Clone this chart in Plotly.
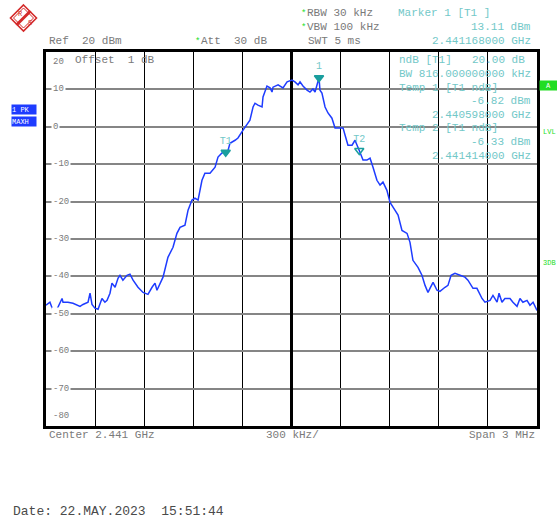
import plotly.graph_objects as go

# Spectrum analyser sweep, max-hold trace
CENTER_GHZ = 2.441
SPAN_KHZ = 3000
REF_LEVEL_DBM = 20

offset_khz = [
    -1500, -1476, -1457, -1433, -1402, -1396, -1366, -1335, -1292, -1274,
    -1243, -1231, -1219, -1201, -1182, -1158, -1140, -1127, -1109, -1097,
    -1078, -1060, -1048, -1030, -1005, -987, -968, -938, -907, -877,
    -852, -834, -822, -803, -785, -755, -724, -700, -681, -651,
    -632, -608, -590, -571, -547, -529, -498, -467, -449, -425,
    -402, -394, -376, -345, -327, -296, -272, -254, -235, -223,
    -205, -180, -174, -162, -150, -131, -119, -113, -82, -52,
    -27, 3, 21, 40, 52, 70, 95, 113, 131, 144,
    156, 168, 174, 186, 205, 223, 247, 266, 296, 315,
    327, 345, 370, 388, 414, 437, 461, 480, 498, 522,
    541, 559, 583, 602, 632, 651, 675, 706, 724, 742,
    773, 797, 816, 834, 846, 865, 889, 907, 938, 956,
    975, 999, 1030, 1060, 1078, 1109, 1133, 1164, 1182, 1213,
    1231, 1256, 1268, 1286, 1304, 1335, 1353, 1378, 1396, 1414,
    1439, 1457, 1476, 1500,
]
level_dbm = [
    -47.7, -46.9, -49.1, -48.8, -45.9, -46.9, -46.9, -47.2, -48.0, -47.5,
    -46.9, -44.5, -47.5, -48.5, -48.8, -45.9, -46.9, -46.4, -44.5, -41.8,
    -42.9, -40.5, -39.7, -41.0, -39.7, -39.4, -41.0, -42.9, -44.3, -44.8,
    -42.9, -41.8, -43.7, -41.8, -40.2, -34.9, -32.2, -28.5, -26.9, -26.3,
    -22.3, -19.6, -19.1, -19.6, -14.3, -12.4, -12.4, -10.8, -8.1, -7.0,
    -6.82, -7.3, -4.4, -3.6, -3.0, -0.9, 0.5, 1.8, 5.3, 6.3,
    5.8, 5.3, 8.0, 9.8, 10.9, 10.4, 9.3, 10.6, 11.2, 10.4,
    12.0, 12.5, 12.0, 11.2, 12.0, 10.9, 9.8, 9.3, 10.1, 9.3,
    11.2, 13.11, 9.8, 9.0, 5.3, 3.7, 2.3, -0.3, -0.3, -0.3,
    -2.2, -4.9, -4.9, -3.6, -6.33, -8.9, -8.9, -8.4, -10.8, -14.3,
    -15.6, -14.8, -17.0, -20.2, -22.3, -23.6, -27.7, -28.5, -30.9, -35.7,
    -37.6, -39.7, -42.4, -44.3, -43.2, -41.6, -43.7, -44.0, -42.9, -42.4,
    -39.7, -39.2, -39.7, -40.2, -41.0, -43.2, -43.2, -45.9, -46.9, -46.4,
    -45.1, -46.9, -44.5, -46.9, -45.9, -45.9, -46.9, -48.0, -45.9, -46.9,
    -46.4, -47.7, -46.9, -49.1,
]

# Markers: T1 / T2 are the ndB temp markers, 1 is the peak marker
marker_names = ["T1", "1", "T2"]
marker_freq_ghz = [2.440598, 2.441168, 2.441414]
marker_level_dbm = [-6.82, 13.11, -6.33]
marker_symbols = ["triangle-down", "triangle-down", "triangle-down-open"]

ytick_values = [20, 10, 0, -10, -20, -30, -40, -50, -60, -70, -80]

MONO = "Liberation Mono"
GRAY = "#7a7a7a"
CYAN = "#72c8c8"
TEAL = "#1a9e9e"
GREEN = "#22dd22"
TRACE_BLUE = "#1e3cff"

# plot frame in page pixels
L, R, T, B = 46, 537, 52, 426
W, H = 557, 521


def px_x(x):
    return (x - L) / (R - L)


def px_y(y):
    return (B - y) / (B - T)


fig = go.Figure()

fig.add_trace(go.Scatter(
    x=offset_khz, y=level_dbm, mode="lines",
    line=dict(color=TRACE_BLUE, width=1.5),
    hoverinfo="skip", showlegend=False,
))

marker_offsets = [(f - CENTER_GHZ) * 1e6 for f in marker_freq_ghz]
fig.add_trace(go.Scatter(
    x=marker_offsets, y=marker_level_dbm, mode="markers+text",
    text=marker_names, textposition="top center",
    textfont=dict(family=MONO, size=10, color=CYAN),
    marker=dict(symbol=marker_symbols, size=8, color=TEAL,
                line=dict(color=TEAL, width=1.5)),
    hoverinfo="skip", showlegend=False,
))

fig.update_xaxes(
    range=[-SPAN_KHZ / 2, SPAN_KHZ / 2], dtick=SPAN_KHZ / 10, tick0=-SPAN_KHZ / 2,
    showgrid=True, gridcolor="black", gridwidth=1.3,
    zeroline=True, zerolinecolor="black", zerolinewidth=3,
    showticklabels=False, ticks="",
    showline=True, linecolor="black", linewidth=2.5, mirror=True,
)
fig.update_yaxes(
    range=[-80, REF_LEVEL_DBM], dtick=10, tick0=-80,
    showgrid=True, gridcolor="#858585", gridwidth=2,
    zeroline=False, showticklabels=False, ticks="",
    showline=True, linecolor="black", linewidth=2.5, mirror=True,
)

# level labels drawn inside the frame
for v in ytick_values:
    if v == ytick_values[0]:
        ya, ys = "top", -3
    elif v == ytick_values[-1]:
        ya, ys = "bottom", 3
    else:
        ya, ys = "middle", 0
    fig.add_annotation(
        text=str(v), x=px_x(51), xref="paper", xanchor="left",
        y=v, yref="y", yanchor=ya, yshift=ys, showarrow=False,
        bgcolor="white", borderpad=1,
        font=dict(family=MONO, size=9, color=GRAY),
    )


def label(text, x, y, color=GRAY, size=11, anchor="left", **kw):
    fig.add_annotation(
        text=text, x=px_x(x), y=px_y(y), xref="paper", yref="paper",
        xanchor=anchor, yanchor="middle", showarrow=False,
        font=dict(family=MONO, size=size, color=color), **kw,
    )


NB = "\u00a0"

# header
label("Ref" + NB * 2 + "20" + NB + "dBm", 47, 41)
label("*", 193, 42, color=GREEN, size=9)
label("Att" + NB * 2 + "30" + NB + "dB", 199, 41)
label("*", 299, 14, color=GREEN, size=9)
label("RBW 30 kHz", 305, 13)
label("*", 299, 28, color=GREEN, size=9)
label("VBW 100 kHz", 305, 27)
label("SWT 5 ms", 306, 41)
label("Marker 1 [T1 ]", 396, 13, color=CYAN)
label("13.11 dBm", 533, 27, color=CYAN, anchor="right")
label("2.441168000 GHz", 533, 41, color=CYAN, anchor="right")

# marker readouts inside the frame
label("Offset" + NB * 2 + "1" + NB + "dB", 73, 60)
label("ndB [T1]", 397, 60, color=CYAN)
label("20.00 dB", 527, 60, color=CYAN, anchor="right")
label("BW 816.000000000 kHz", 533, 74, color=CYAN, anchor="right")
label("Temp 1 [T1 ndB]", 397, 88, color=CYAN)
label("-6.82 dBm", 533, 101, color=CYAN, anchor="right")
label("2.440598000 GHz", 533, 115, color=CYAN, anchor="right")
label("Temp 2 [T1 ndB]", 397, 128, color=CYAN)
label("-6.33 dBm", 533, 142, color=CYAN, anchor="right")
label("2.441414000 GHz", 533, 156, color=CYAN, anchor="right")

# trace / status badges
label("1 PK", 11, 110, color="white", size=7, bgcolor=TRACE_BLUE,
      width=24, height=9, align="left", borderpad=0)
label("MAXH", 11, 122, color="white", size=7, bgcolor=TRACE_BLUE,
      width=24, height=9, align="left", borderpad=0)
label("A", 539, 85, color="white", size=7, bgcolor=GREEN,
      width=17, height=9, borderpad=0)
label("LVL", 541, 132, color=GREEN, size=7)
label("3DB", 541, 263, color=GREEN, size=7)

# footer
label("Center 2.441 GHz", 47, 435)
label("300 kHz/", 292, 435, anchor="center")
label("Span 3 MHz", 537, 435, anchor="right")
label("Date: 22.MAY.2023" + NB * 2 + "15:51:44", 11, 511, color="#4a4a4a", size=13)

# R&S logo
LOGO_RED = "#d42a2a"
lx, ly = px_x(23.5), px_y(18)
for half, width in [(13, 1.6), (10, 1.0)]:
    fig.add_shape(
        type="path", xref="paper", yref="paper",
        xsizemode="pixel", ysizemode="pixel", xanchor=lx, yanchor=ly,
        path=f"M 0,{half} L {half},0 L 0,-{half} L -{half},0 Z",
        line=dict(color=LOGO_RED, width=width),
        fillcolor="rgba(0,0,0,0)",
    )
fig.add_shape(
    type="path", xref="paper", yref="paper",
    xsizemode="pixel", ysizemode="pixel", xanchor=lx, yanchor=ly,
    path="M -7,-7 L 7,7",
    line=dict(color=LOGO_RED, width=3),
)
label("R", 16, 14, color=LOGO_RED, size=7)
label("S", 26, 23, color=LOGO_RED, size=7)

fig.update_layout(
    width=W, height=H, autosize=False,
    margin=dict(l=L, r=W - R, t=T, b=H - B, pad=0),
    paper_bgcolor="white", plot_bgcolor="white",
    font=dict(family=MONO),
)

fig.write_html("out.html")
